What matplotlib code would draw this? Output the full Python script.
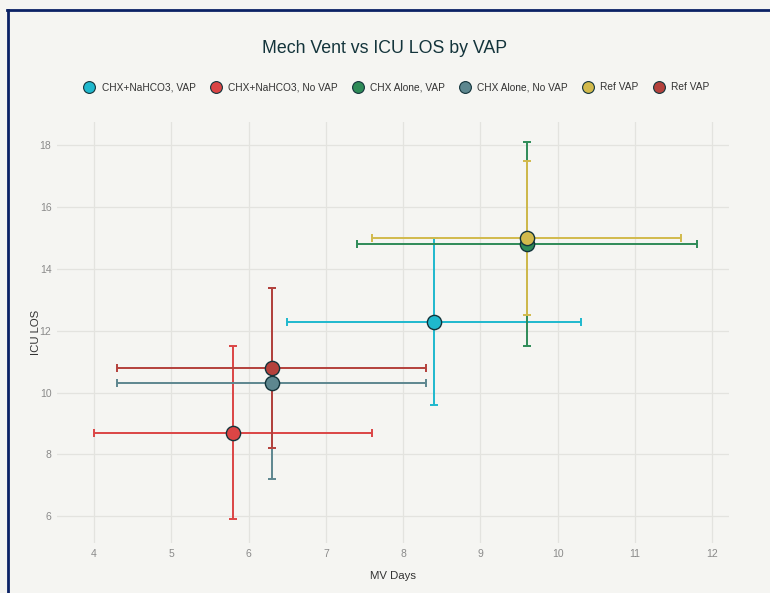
import matplotlib.pyplot as plt
from matplotlib.lines import Line2D

plt.rcParams['font.family'] = ['Liberation Sans', 'DejaVu Sans']

# grupos e valores (média, limites do intervalo)
grupos = ['CHX+NaHCO3, VAP', 'CHX+NaHCO3, No VAP', 'CHX Alone, VAP',
          'CHX Alone, No VAP', 'Ref VAP', 'Ref VAP']
cores = ['#1FB8CD', '#DB4545', '#2E8B57', '#5D878F', '#D2BA4C', '#B4413C']

mv_dias = [8.4, 5.8, 9.6, 6.3, 9.6, 6.3]
mv_min = [6.5, 4.0, 7.4, 4.3, 7.6, 4.3]
mv_max = [10.3, 7.6, 11.8, 8.3, 11.6, 8.3]

uti_los = [12.3, 8.7, 14.8, 10.3, 15.0, 10.8]
los_min = [9.6, 5.9, 11.5, 7.2, 12.5, 8.2]
los_max = [15.0, 11.5, 18.1, 13.4, 17.5, 13.4]

x_ticks = [4, 5, 6, 7, 8, 9, 10, 11, 12]
y_ticks = [6, 8, 10, 12, 14, 16, 18]

fundo = '#F5F5F2'
fig = plt.figure(figsize=(7.7, 5.93), dpi=100, facecolor=fundo)
ax = fig.add_axes([0.074, 0.084, 0.873, 0.710], facecolor=fundo)

for i in range(len(grupos)):
    xerr = [[mv_dias[i] - mv_min[i]], [mv_max[i] - mv_dias[i]]]
    yerr = [[uti_los[i] - los_min[i]], [los_max[i] - uti_los[i]]]
    ax.errorbar(mv_dias[i], uti_los[i], xerr=xerr, yerr=yerr, fmt='none',
                ecolor=cores[i], elinewidth=1.4, capsize=3, capthick=1.4,
                zorder=2 + i * 0.1)
    ax.scatter(mv_dias[i], uti_los[i], s=105, color=cores[i],
               edgecolor='#13343B', linewidth=1.0, zorder=3 + i * 0.1)

ax.set_xlim(3.52, 12.22)
ax.set_ylim(5.13, 18.75)
ax.set_xticks(x_ticks)
ax.set_yticks(y_ticks)
ax.grid(True, color='#E3E3DF', linewidth=0.9)
ax.set_axisbelow(True)
for s in ax.spines.values():
    s.set_visible(False)
ax.tick_params(length=0, labelsize=7.5, labelcolor='#8A8A8A')
ax.tick_params(axis='x', pad=4)
ax.tick_params(axis='y', pad=4)

ax.set_xlabel('MV Days', fontsize=8.2, color='#333333', labelpad=9)
ax.set_ylabel('ICU LOS', fontsize=8.2, color='#333333', labelpad=-1)

fig.text(0.5, 0.919, 'Mech Vent vs ICU LOS by VAP', ha='center', va='center',
         fontsize=12.8, color='#13343B')

alcas = [Line2D([], [], marker='o', linestyle='none', markersize=8.5,
                markerfacecolor=c, markeredgecolor='#13343B',
                markeredgewidth=0.8) for c in cores]
fig.legend(alcas, grupos, loc='center', bbox_to_anchor=(0.512, 0.853), ncol=6,
           frameon=False, fontsize=7.3, handletextpad=0.2, columnspacing=1.0,
           labelcolor='#333333')

# moldura azul escura no topo e à esquerda
fig.add_artist(Line2D([0.009, 1.0], [0.983, 0.983], color='#0B2265',
                      linewidth=2, transform=fig.transFigure))
fig.add_artist(Line2D([0.010, 0.010], [0.0, 0.983], color='#0B2265',
                      linewidth=2, transform=fig.transFigure))

fig.savefig('out.png', dpi=100, facecolor=fundo)
